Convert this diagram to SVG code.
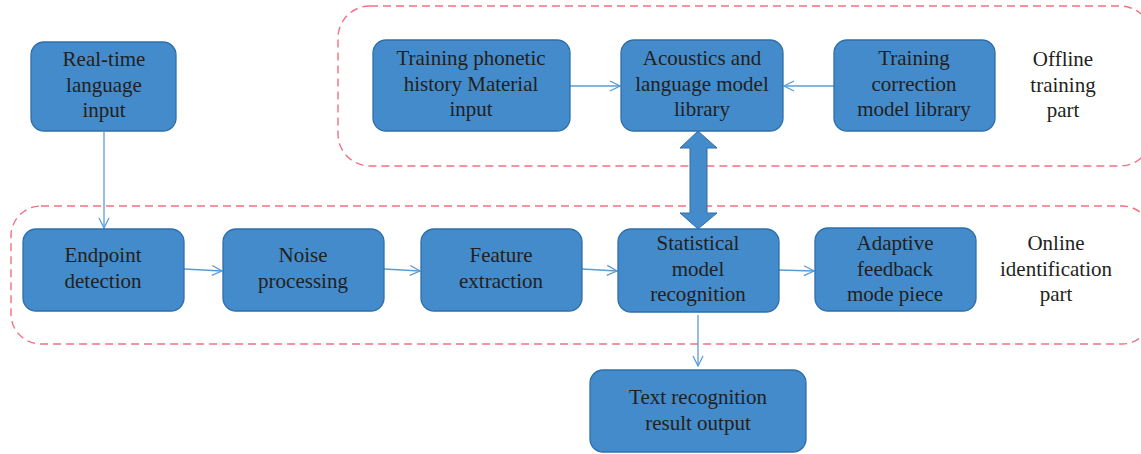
<svg xmlns="http://www.w3.org/2000/svg" width="1141" height="454" viewBox="0 0 1141 454">
  <defs>
    <style>
      .frame { fill: none; stroke: #f2707f; stroke-width: 1.4; stroke-dasharray: 8 5; }
      .box { fill: #438bca; stroke: #2f6fa9; stroke-width: 1.3; }
      .lbl { font-size: 21px; fill: #231f20; text-anchor: middle; }
      .link { fill: none; stroke: #5b9bd5; stroke-width: 1.3; }
      .big { fill: #438bca; stroke: #2f6fa9; stroke-width: 1; }
    </style>
    <marker id="open" viewBox="0 0 12 12" refX="11" refY="6" markerWidth="12" markerHeight="12" markerUnits="userSpaceOnUse" orient="auto">
      <path d="M1 1 L11 6 L1 11" fill="none" stroke="#5b9bd5" stroke-width="1.3"/>
    </marker>
  </defs>
  <rect width="1141" height="454" fill="#ffffff"/>

  <!-- dashed regions -->
  <g id="regions">
    <rect class="frame" x="338" y="6" width="814" height="160" rx="32"/>
    <rect class="frame" x="11" y="206" width="1141" height="138" rx="30"/>
  </g>

  <!-- connectors -->
  <g id="connectors">
    <line class="link" x1="104" y1="132" x2="104" y2="228" marker-end="url(#open)"/>
    <line class="link" x1="570" y1="86" x2="620" y2="86" marker-end="url(#open)"/>
    <line class="link" x1="834" y1="86" x2="784" y2="86" marker-end="url(#open)"/>
    <line class="link" x1="184" y1="269" x2="222" y2="271" marker-end="url(#open)"/>
    <line class="link" x1="384" y1="269" x2="420" y2="271" marker-end="url(#open)"/>
    <line class="link" x1="582" y1="269" x2="617" y2="271" marker-end="url(#open)"/>
    <line class="link" x1="779" y1="270" x2="814" y2="271" marker-end="url(#open)"/>
    <line class="link" x1="698" y1="315" x2="698" y2="366" marker-end="url(#open)"/>
    <path class="big" d="M698 131 L717 148 L707 148 L707 213 L717 213 L698 229 L680 213 L690 213 L690 148 L680 148 Z"/>
  </g>

  <g font-family="'Liberation Serif', 'Times New Roman', 'DejaVu Serif', serif">
  <g id="realtime">
    <rect class="box" x="31" y="42" width="145" height="89" rx="13"/>
    <text class="lbl" x="104" y="66">Real-time</text>
    <text class="lbl" x="104" y="92">language</text>
    <text class="lbl" x="104" y="117">input</text>
  </g>

  <g id="phonetic">
    <rect class="box" x="373" y="40" width="197" height="91" rx="13"/>
    <text class="lbl" x="471" y="65">Training phonetic</text>
    <text class="lbl" x="471" y="91">history Material</text>
    <text class="lbl" x="471" y="116">input</text>
  </g>

  <g id="acoustics">
    <rect class="box" x="621" y="40" width="162" height="91" rx="13"/>
    <text class="lbl" x="702" y="65">Acoustics and</text>
    <text class="lbl" x="702" y="91">language model</text>
    <text class="lbl" x="702" y="116">library</text>
  </g>

  <g id="correction">
    <rect class="box" x="834" y="40" width="161" height="91" rx="13"/>
    <text class="lbl" x="914" y="65">Training</text>
    <text class="lbl" x="914" y="91">correction</text>
    <text class="lbl" x="914" y="116">model library</text>
  </g>

  <g id="offline">
    <text class="lbl" x="1063" y="66">Offline</text>
    <text class="lbl" x="1063" y="92">training</text>
    <text class="lbl" x="1063" y="117">part</text>
  </g>

  <g id="endpoint">
    <rect class="box" x="23" y="229" width="161" height="82" rx="13"/>
    <text class="lbl" x="103" y="262">Endpoint</text>
    <text class="lbl" x="103" y="288">detection</text>
  </g>

  <g id="noise">
    <rect class="box" x="223" y="229" width="161" height="82" rx="13"/>
    <text class="lbl" x="303" y="262">Noise</text>
    <text class="lbl" x="303" y="288">processing</text>
  </g>

  <g id="feature">
    <rect class="box" x="421" y="229" width="161" height="82" rx="13"/>
    <text class="lbl" x="501" y="262">Feature</text>
    <text class="lbl" x="501" y="288">extraction</text>
  </g>

  <g id="statistical">
    <rect class="box" x="618" y="229" width="161" height="83" rx="13"/>
    <text class="lbl" x="698" y="250">Statistical</text>
    <text class="lbl" x="698" y="276">model</text>
    <text class="lbl" x="698" y="301">recognition</text>
  </g>

  <g id="adaptive">
    <rect class="box" x="815" y="228" width="161" height="83" rx="13"/>
    <text class="lbl" x="895" y="250">Adaptive</text>
    <text class="lbl" x="895" y="276">feedback</text>
    <text class="lbl" x="895" y="301">mode piece</text>
  </g>

  <g id="online">
    <text class="lbl" x="1056" y="250">Online</text>
    <text class="lbl" x="1056" y="276">identification</text>
    <text class="lbl" x="1056" y="301">part</text>
  </g>

  <g id="output">
    <rect class="box" x="590" y="370" width="216" height="82" rx="13"/>
    <text class="lbl" x="698" y="404">Text recognition</text>
    <text class="lbl" x="698" y="430">result output</text>
  </g>
  </g>
</svg>
